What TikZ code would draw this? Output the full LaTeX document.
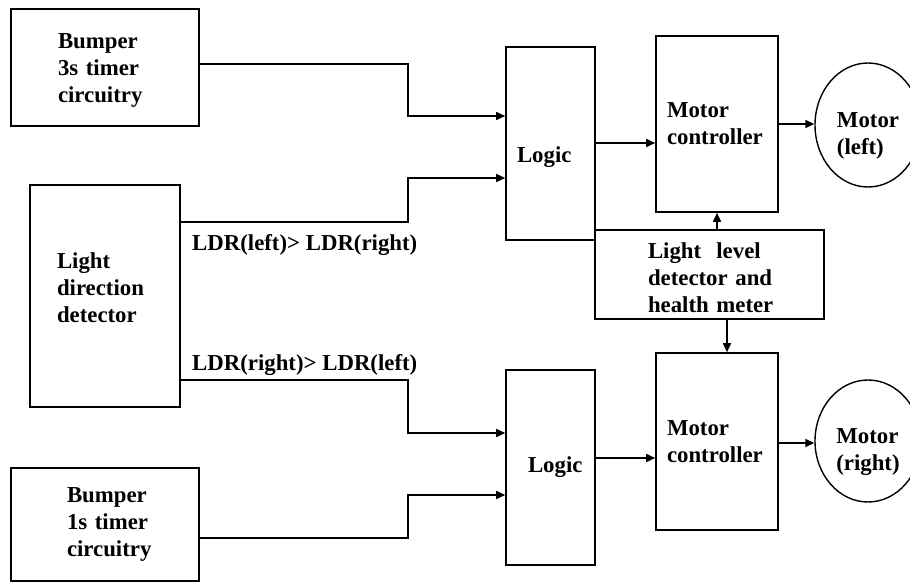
\documentclass[tikz,border=0pt]{standalone}
\usepackage{fontspec}
\setmainfont{Liberation Serif}
\usetikzlibrary{arrows.meta,shapes.geometric}
\begin{document}
\begin{tikzpicture}[x=1pt,y=-1pt,
  every node/.style={font=\fontsize{22.8pt}{27pt}\selectfont\bfseries},
  blk/.style={draw,line width=1.6pt,rectangle,inner ysep=0pt,align=left},
  mot/.style={draw,line width=1.4pt,ellipse,inner sep=0pt,align=left,text height=64pt,text depth=6pt},
  arr/.style={line width=1.6pt,-{Triangle[length=9pt,width=8pt]}},
  lbl/.style={anchor=base west,inner sep=0pt}]
\clip (0,0) rectangle (910,583);
\fill[white] (0,0) rectangle (910,583);

\node[blk,minimum width=188pt,minimum height=117pt,inner xsep=47pt,text width=94pt,text height=22pt,text depth=59pt] (b3) at (105,67.5) {Bumper\\3s timer\\circuitry};
\node[blk,minimum width=150pt,minimum height=222pt,inner xsep=27pt,text width=96pt,text height=4pt,text depth=60pt] (ldd) at (105,296) {Light\\direction\\detector};
\node[blk,minimum width=188pt,minimum height=113pt,inner xsep=47pt,text width=94pt] (b1) at (105,524.5) {\hspace*{9pt}Bumper\\\hspace*{9pt}1s timer\\\hspace*{9pt}circuitry};

\node[blk,minimum width=89pt,minimum height=193pt,inner xsep=11pt,text width=67pt,text height=42pt,text depth=5pt] (lg1) at (550.5,143.5) {Logic};
\node[blk,minimum width=89pt,minimum height=195pt,inner xsep=16pt,text width=57pt] (lg2) at (550.5,467.5) {\hspace*{6pt}Logic};

\node[blk,minimum width=122pt,minimum height=176pt,inner xsep=11pt,text width=100pt] (mc1) at (717,124) {Motor\\controller};
\node[blk,minimum width=122pt,minimum height=177pt,inner xsep=11pt,text width=100pt] (mc2) at (717,441.5) {Motor\\controller};

\node[blk,minimum width=229pt,minimum height=89pt,inner xsep=47pt,text width=135pt,text height=21pt,text depth=54pt] (llb) at (709.5,274.5) {\hspace*{6pt}\mbox{Light\ \ level}\\\hspace*{6pt}\mbox{detector and}\\\hspace*{6pt}\mbox{health meter}};

\node[mot,minimum width=106pt,minimum height=124pt] (ml) at (868,125) {Motor\\(left)};
\node[mot,minimum width=106pt,minimum height=122pt] (mr) at (868,441) {Motor\\(right)};

\node[lbl] (lab1) at (192,250) {LDR(left)> LDR(right)};
\node[lbl] (lab2) at (192,370) {LDR(right)> LDR(left)};

\coordinate (jog) at (408,0);
\coordinate (dx) at (727,0);

\draw[arr] (b3.east |- 0,64) -- (jog |- 0,64) |- (lg1.west |- 0,116);
\draw[arr] (ldd.east |- 0,222) -- (jog |- 0,222) |- (lg1.west |- 0,178);
\draw[arr] (ldd.east |- 0,380) -- (jog |- 0,380) |- (lg2.west |- 0,433);
\draw[arr] (b1.east |- 0,538) -- (jog |- 0,538) |- (lg2.west |- 0,495);
\draw[arr] (lg1.east |- 0,143) -- (mc1.west |- 0,143);
\draw[arr] (lg2.east |- 0,458) -- (mc2.west |- 0,458);
\draw[arr] (mc1.east) -- (mc1.east -| ml.west);
\draw[arr] (mc2.east |- 0,443) -- (mr.west |- 0,443);
\draw[arr] (mc1.south |- llb.north) -- (mc1.south);
\draw[arr] (dx |- llb.south) -- (dx |- mc2.north);
\end{tikzpicture}
\end{document}
